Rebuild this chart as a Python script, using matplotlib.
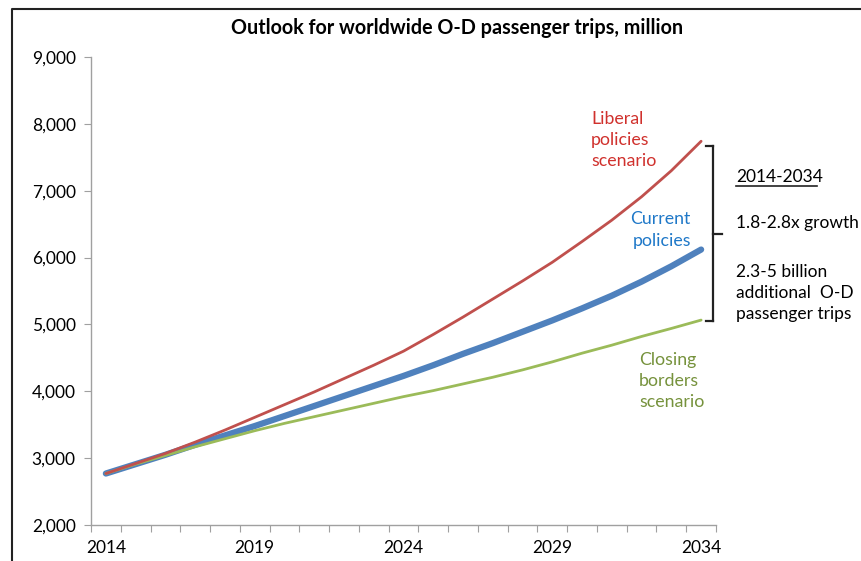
import numpy as np
import matplotlib
matplotlib.use("Agg")
import matplotlib.pyplot as plt
from matplotlib.lines import Line2D

plt.rcParams['font.family'] = ['Lato', 'DejaVu Sans']

# Data (million O-D passenger trips)
years = list(range(2014, 2035))
liberal = [2770, 2920, 3070, 3240, 3420, 3610, 3800, 3990, 4190, 4390, 4600,
           4850, 5110, 5380, 5650, 5930, 6240, 6560, 6910, 7300, 7740]
current = [2770, 2910, 3050, 3200, 3340, 3480, 3630, 3780, 3930, 4080, 4230,
           4390, 4560, 4720, 4890, 5060, 5240, 5430, 5640, 5870, 6120]
closing = [2770, 2910, 3040, 3170, 3290, 3410, 3520, 3620, 3720, 3820, 3920,
           4010, 4110, 4210, 4320, 4440, 4570, 4690, 4820, 4940, 5065]
label_years = [2014, 2019, 2024, 2029, 2034]
yticks = [2000, 3000, 4000, 5000, 6000, 7000, 8000, 9000]

W, H = 862, 561
fig = plt.figure(figsize=(W / 100, H / 100), dpi=100)
ax = fig.add_axes([91 / W, 1 - 525 / H, (716 - 91) / W, (525 - 57) / H])

def px(x, y):
    # pixel position (top-left origin) -> figure fraction
    return x / W, 1 - y / H

xs = np.arange(len(years))
ax.plot(xs, closing, color='#9BBB59', lw=2.0, solid_capstyle='round', zorder=3)
ax.plot(xs, liberal, color='#C0504D', lw=2.0, solid_capstyle='round', zorder=3)
ax.plot(xs, current, color='#4F81BD', lw=4.5, solid_capstyle='round', zorder=2)

ax.set_xlim(-0.5, len(years) - 0.5)
ax.set_ylim(2000, 9000)
ax.set_yticks(yticks)
ax.set_yticklabels([f"{v:,}" for v in yticks])
ax.set_xticks(np.arange(-0.5, len(years), 1.0))
ax.set_xticklabels([])
ax.set_xticks([years.index(y) for y in label_years], minor=True)
ax.set_xticklabels([str(y) for y in label_years], minor=True)
ax.tick_params(axis='x', which='major', direction='out', length=5, color='#A0A0A0')
ax.tick_params(axis='x', which='minor', length=0, labelsize=12.5, pad=11)
ax.tick_params(axis='y', direction='out', length=5, color='#A0A0A0', labelsize=12.5, pad=6)

for s in ['top', 'right']:
    ax.spines[s].set_visible(False)
for s in ['left', 'bottom']:
    ax.spines[s].set_color('#A0A0A0')
    ax.spines[s].set_linewidth(1.0)

# title
fig.text(*px(457, 28), "Outlook for worldwide O-D passenger trips, million",
         ha='center', va='center', fontsize=14.2, fontweight='bold')

# series labels
fig.text(*px(591, 140), "Liberal\npolicies\nscenario", ha='left', va='center',
         fontsize=12.8, color='#D0312D', linespacing=1.4)
fig.text(*px(691, 230), "Current\npolicies", ha='right', va='center',
         fontsize=12.8, color='#1F78C8', linespacing=1.4)
fig.text(*px(639, 381), "Closing\nborders\nscenario", ha='left', va='center',
         fontsize=12.8, color='#76923C', linespacing=1.4)

# bracket
bx, btop, bbot, bmid = 713, 146, 321, 234
for seg in [((706, btop), (bx, btop)), ((bx, btop), (bx, bbot)),
            ((706, bbot), (bx, bbot)), ((bx, bmid), (722, bmid))]:
    (x0, y0), (x1, y1) = seg
    p0, p1 = px(x0, y0), px(x1, y1)
    fig.add_artist(Line2D([p0[0], p1[0]], [p0[1], p1[1]], color='#222222', lw=1.6))

# right-hand notes
fig.text(*px(736, 177), "2014-2034", ha='left', va='center', fontsize=12.5)
u0, u1 = px(736, 186), px(817, 186)
fig.add_artist(Line2D([u0[0], u1[0]], [u0[1], u1[1]], color='#222222', lw=1.2))
fig.text(*px(736, 223), "1.8-2.8x growth", ha='left', va='center', fontsize=12.5)
fig.text(*px(736, 293), "2.3-5 billion\nadditional  O-D\npassenger trips",
         ha='left', va='center', fontsize=12.5, linespacing=1.38)

# outer frame
f0, f1, f2 = px(12, H), px(12, 9), px(W, 9)
fig.add_artist(Line2D([f0[0], f1[0], f2[0]], [f0[1], f1[1], f2[1]], color='#222222', lw=1.5))

fig.savefig("out.png", dpi=100)
